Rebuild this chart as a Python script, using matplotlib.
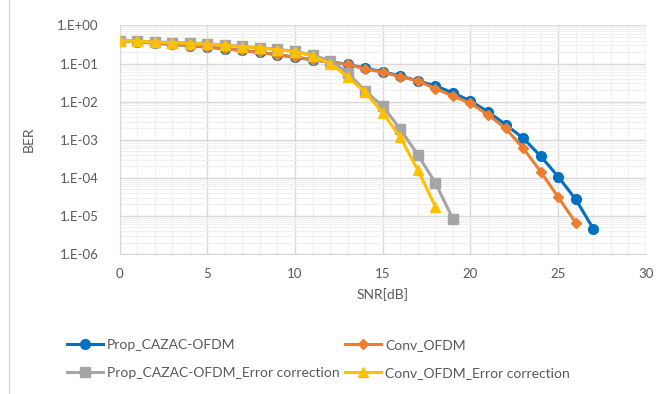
import matplotlib
matplotlib.use("Agg")
import matplotlib.pyplot as plt
import numpy as np
from matplotlib.ticker import FixedLocator, LogLocator, NullFormatter, MultipleLocator
from matplotlib.lines import Line2D

plt.rcParams['font.family'] = ['Lato', 'DejaVu Sans']

snr_prop = list(range(0, 28))
ber_prop = [0.40, 0.37, 0.345, 0.32, 0.295, 0.27, 0.245, 0.22, 0.195, 0.17, 0.145,
            0.125, 0.11, 0.095, 0.075, 0.061, 0.047, 0.035, 0.026, 0.017, 0.0104,
            0.0054, 0.0025, 0.0011, 3.7e-4, 1.07e-4, 2.7e-5, 4.6e-6]
snr_conv = list(range(0, 27))
ber_conv = [0.40, 0.37, 0.345, 0.32, 0.295, 0.27, 0.245, 0.22, 0.195, 0.17, 0.148,
            0.127, 0.11, 0.095, 0.072, 0.059, 0.045, 0.035, 0.022, 0.014, 0.0091,
            0.0045, 0.0020, 6.0e-4, 1.45e-4, 3.1e-5, 6.6e-6]
snr_prop_ec = list(range(0, 20))
ber_prop_ec = [0.40, 0.385, 0.37, 0.355, 0.34, 0.325, 0.305, 0.28, 0.26, 0.235, 0.21,
               0.167, 0.119, 0.058, 0.019, 0.0076, 0.0019, 4.0e-4, 7.4e-5, 8.3e-6]
snr_conv_ec = list(range(0, 19))
ber_conv_ec = [0.40, 0.38, 0.365, 0.35, 0.335, 0.32, 0.30, 0.275, 0.255, 0.23, 0.205,
               0.158, 0.10, 0.045, 0.0175, 0.0051, 0.00115, 1.6e-4, 1.75e-5]

labels = ["Prop_CAZAC-OFDM", "Conv_OFDM",
          "Prop_CAZAC-OFDM_Error correction", "Conv_OFDM_Error correction"]
yticks = [1e0, 1e-1, 1e-2, 1e-3, 1e-4, 1e-5, 1e-6]
ytick_labels = ["1.E+00", "1.E-01", "1.E-02", "1.E-03", "1.E-04", "1.E-05", "1.E-06"]
xticks = [0, 5, 10, 15, 20, 25, 30]

fig = plt.figure(figsize=(6.65, 3.94), dpi=100)
ax = fig.add_axes([0.1797, 0.3553, 0.9714 - 0.1797, 0.9355 - 0.3553])

series = [
    (snr_prop, ber_prop, '#0070C0', 'o', 7),
    (snr_conv, ber_conv, '#ED7D31', 'D', 5),
    (snr_prop_ec, ber_prop_ec, '#A5A5A5', 's', 6.5),
    (snr_conv_ec, ber_conv_ec, '#FFC000', '^', 7.5),
]
handles = []
for (x, y, c, m, ms), lab in zip(series, labels):
    h, = ax.plot(x, y, color=c, marker=m, markersize=ms, linewidth=2.2,
                 markeredgecolor=c, label=lab, zorder=3)
    handles.append(h)

ax.set_yscale('log')
ax.set_ylim(1e-6, 1e0)
ax.set_xlim(0, 30)
ax.yaxis.set_major_locator(FixedLocator(yticks))
ax.set_yticklabels(ytick_labels)
ax.yaxis.set_minor_locator(LogLocator(base=10, subs=np.arange(2, 10)))
ax.yaxis.set_minor_formatter(NullFormatter())
ax.set_xticks(xticks)
ax.xaxis.set_minor_locator(MultipleLocator(1))

ax.grid(which='major', color='#D9D9D9', linewidth=1.0)
ax.grid(which='minor', color='#F0F0F0', linewidth=0.8)
ax.set_axisbelow(True)
for s in ['top', 'right']:
    ax.spines[s].set_visible(False)
for s in ['left', 'bottom']:
    ax.spines[s].set_color('#D9D9D9')
ax.tick_params(which='both', length=0, colors='#595959', labelsize=9.5)
ax.tick_params(axis='x', pad=10)
ax.tick_params(axis='y', pad=15)

ax.set_xlabel('SNR[dB]', color='#595959', fontsize=10, labelpad=6)
ax.set_ylabel('BER', color='#595959', fontsize=10, labelpad=16)

common = dict(loc='upper left', ncol=1, frameon=False, fontsize=10,
              labelcolor='#595959', handlelength=2.6, handletextpad=0.29,
              labelspacing=1.15, borderaxespad=0, borderpad=0)
leg1 = fig.legend(handles=[handles[0], handles[2]], labels=[labels[0], labels[2]],
                  bbox_to_anchor=(67 / 665, 1 - 339 / 394), **common)
leg2 = fig.legend(handles=[handles[1], handles[3]], labels=[labels[1], labels[3]],
                  bbox_to_anchor=(345 / 665, 1 - 339 / 394), **common)

fig.add_artist(Line2D([0.0135, 0.0135], [0, 1], transform=fig.transFigure,
                      color='#D9D9D9', linewidth=1))

fig.savefig('out.png', dpi=100)
